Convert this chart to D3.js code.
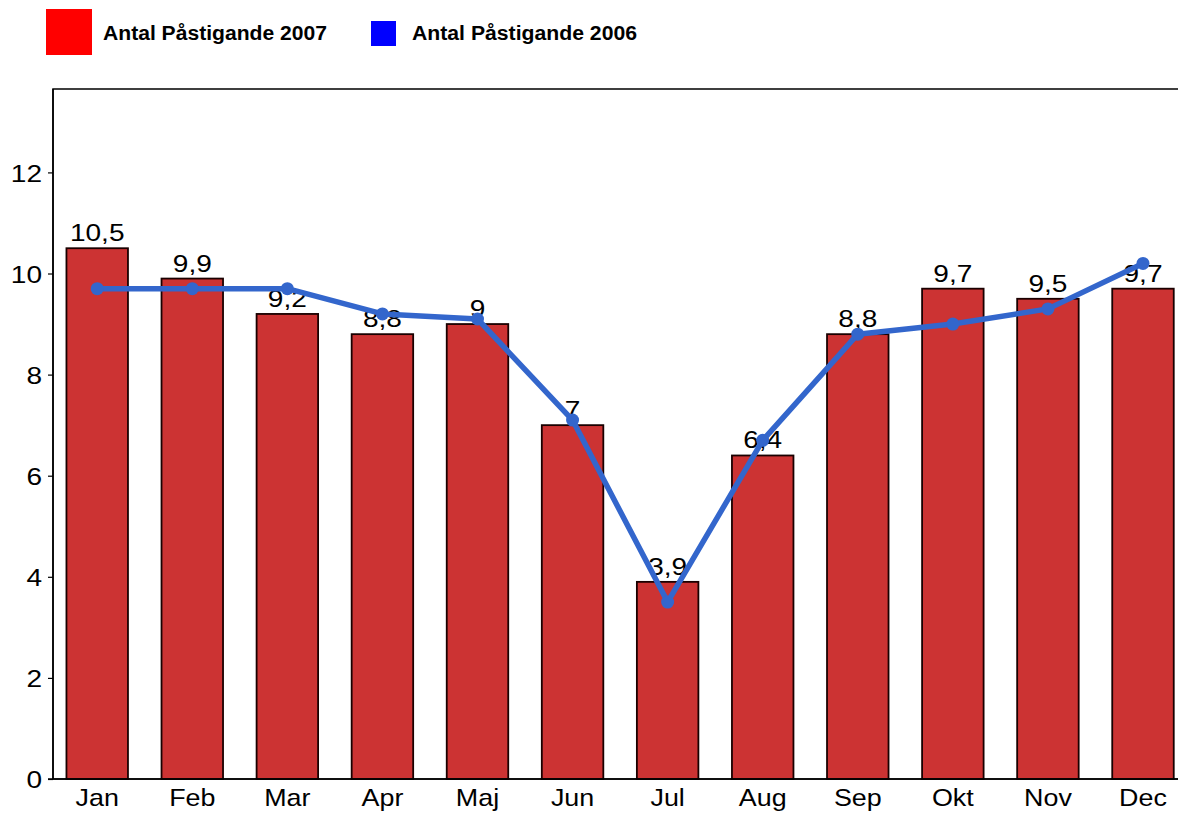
<!DOCTYPE html>
<html>
<head>
<meta charset="utf-8">
<script src="https://cdn.jsdelivr.net/npm/d3@7"></script>
<style>
  html, body { margin: 0; padding: 0; background: #fff; }
  svg { display: block; font-family: "Liberation Sans", Arial, sans-serif; }
</style>
</head>
<body>
<svg id="chart" width="1178" height="814"></svg>
<script>
const months = ["Jan","Feb","Mar","Apr","Maj","Jun","Jul","Aug","Sep","Okt","Nov","Dec"];
const values2007 = [10.5, 9.9, 9.2, 8.8, 9, 7, 3.9, 6.4, 8.8, 9.7, 9.5, 9.7];
const values2006 = [9.7, 9.7, 9.7, 9.2, 9.1, 7.1, 3.5, 6.7, 8.8, 9.0, 9.3, 10.2];
const yTicks = [0, 2, 4, 6, 8, 10, 12];
const seriesNames = ["Antal Påstigande 2007", "Antal Påstigande 2006"];

(function () {
const svg = d3.select("#chart");
const pLeft = 53, pTop = 89, pBottom = 779, pRight = 1187.2;
const sx = 1.22;   // horizontal text stretch seen in the reference
const fs = 23;

const x = d3.scaleBand().domain(months).range([pLeft, pRight])
  .paddingInner(0.353).paddingOuter(0.1415);
const y = d3.scaleLinear().domain([0, 13.65]).range([pBottom, pTop]);

const fmt = v => String(v).replace(".", ",");

// frame
svg.append("rect").attr("x", pLeft).attr("y", pTop)
  .attr("width", pRight - pLeft).attr("height", pBottom - pTop)
  .attr("fill", "none").attr("stroke", "#000").attr("stroke-width", 1.5);

// y axis
const yAxis = svg.append("g").attr("transform", `translate(${pLeft},0)`)
  .call(d3.axisLeft(y).tickValues(yTicks).tickSize(5).tickFormat(d => d));
yAxis.select(".domain").remove();
yAxis.selectAll("line").attr("stroke", "#000").attr("stroke-width", 1.2);
yAxis.selectAll("text").attr("font-size", fs).attr("fill", "#000")
  .attr("font-family", "Liberation Sans, Arial, sans-serif")
  .attr("x", -11 / sx).attr("dy", "0.38em")
  .attr("transform", `scale(${sx},1)`);

// x axis
const xAxis = svg.append("g").attr("transform", `translate(0,${pBottom})`)
  .call(d3.axisBottom(x).tickSize(0).tickPadding(10));
xAxis.select(".domain").remove();
xAxis.selectAll("text").attr("font-size", 24).attr("fill", "#000")
  .attr("font-family", "Liberation Sans, Arial, sans-serif")
  .attr("transform", `scale(1.12,1)`);

// bars
svg.append("g").selectAll("rect").data(months).join("rect")
  .attr("x", d => x(d))
  .attr("y", (d, i) => y(values2007[i]))
  .attr("width", x.bandwidth())
  .attr("height", (d, i) => pBottom - y(values2007[i]))
  .attr("fill", "#CC3333").attr("stroke", "#1a0000").attr("stroke-width", 1.8);

// axis lines
svg.append("line").attr("x1", pLeft - 5).attr("x2", pRight).attr("y1", pBottom).attr("y2", pBottom)
  .attr("stroke", "#000").attr("stroke-width", 1.5);
svg.append("line").attr("x1", pLeft).attr("x2", pLeft).attr("y1", pTop).attr("y2", pBottom)
  .attr("stroke", "#000").attr("stroke-width", 1.5);

// value labels
svg.append("g").selectAll("text").data(months).join("text")
  .attr("transform", (d, i) => `translate(${x(d) + x.bandwidth() / 2},${y(values2007[i]) - 7}) scale(${sx},1)`)
  .attr("text-anchor", "middle").attr("font-size", fs).attr("fill", "#000")
  .text((d, i) => fmt(values2007[i]));

// line 2006
const line = d3.line().x((d, i) => x(months[i]) + x.bandwidth() / 2).y(d => y(d));
svg.append("path").datum(values2006).attr("d", line)
  .attr("fill", "none").attr("stroke", "#3366CC").attr("stroke-width", 5.5)
  .attr("stroke-linejoin", "round");
svg.append("g").selectAll("circle").data(values2006).join("circle")
  .attr("cx", (d, i) => x(months[i]) + x.bandwidth() / 2)
  .attr("cy", d => y(d)).attr("r", 6.5).attr("fill", "#3366CC");

// legend
const leg = svg.append("g");
leg.append("rect").attr("x", 46).attr("y", 9).attr("width", 46).attr("height", 46).attr("fill", "#FF0000");
leg.append("text").attr("x", 103).attr("y", 40).attr("font-size", 20).attr("font-weight", "bold")
  .attr("textLength", 224).attr("lengthAdjust", "spacingAndGlyphs").text(seriesNames[0]);
leg.append("rect").attr("x", 371).attr("y", 21).attr("width", 25).attr("height", 25).attr("fill", "#0000FF");
leg.append("text").attr("x", 412).attr("y", 40).attr("font-size", 20).attr("font-weight", "bold")
  .attr("textLength", 225).attr("lengthAdjust", "spacingAndGlyphs").text(seriesNames[1]);
})();
</script>
</body>
</html>
